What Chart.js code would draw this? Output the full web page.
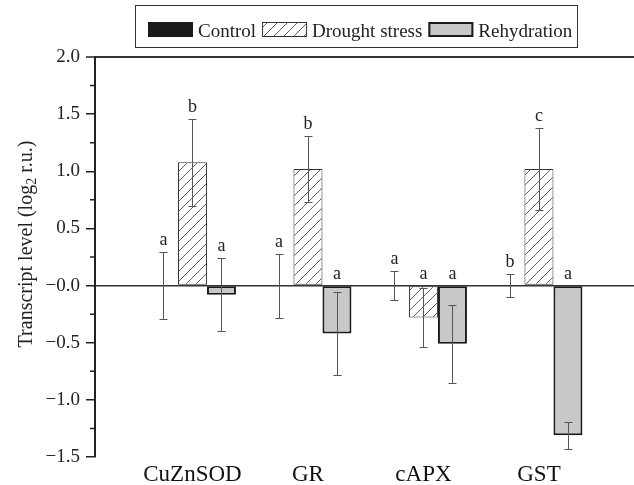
<!DOCTYPE html>
<html>
<head>
<meta charset="utf-8">
<script src="https://cdn.jsdelivr.net/npm/chart.js@4.4.0/dist/chart.umd.min.js"></script>
<style>
  html, body { margin: 0; padding: 0; background: #fff; }
</style>
</head>
<body>
<canvas id="chart" width="634" height="485"></canvas>
<script>
// Transcript level of antioxidant genes under drought and rehydration

const categories = ['CuZnSOD', 'GR', 'cAPX', 'GST'];
const seriesNames = ['Control', 'Drought stress', 'Rehydration'];

const controlValues = [0, 0, 0, 0];
const droughtValues = [1.08, 1.02, -0.28, 1.02];
const rehydrationValues = [-0.08, -0.42, -0.51, -1.31];

const controlErrors = [0.29, 0.28, 0.125, 0.10];
const droughtErrors = [0.38, 0.29, 0.26, 0.36];
const rehydrationErrors = [0.32, 0.36, 0.34, 0.12];

const controlLetters = ['a', 'a', 'a', 'b'];
const droughtLetters = ['b', 'b', 'a', 'c'];
const rehydrationLetters = ['a', 'a', 'a', 'a'];

const yTicks = [-1.5, -1.0, -0.5, 0, 0.5, 1.0, 1.5, 2.0];

const FONT = '"Liberation Serif", "Times New Roman", serif';
Chart.defaults.font.family = FONT;

const ctx = document.getElementById('chart').getContext('2d');

// diagonal hatch for the drought bars
function makeHatch() {
    const c = document.createElement('canvas');
    c.width = 10;
    c.height = 10;
    const g = c.getContext('2d');
    g.fillStyle = '#fff';
    g.fillRect(0, 0, 10, 10);
    g.strokeStyle = '#333';
    g.lineWidth = 0.8;
    g.beginPath();
    g.moveTo(0, 10); g.lineTo(10, 0);
    g.moveTo(-1, 1); g.lineTo(1, -1);
    g.moveTo(9, 11); g.lineTo(11, 9);
    g.stroke();
    return ctx.createPattern(c, 'repeat');
}
const hatch = makeHatch();

function toPoints(values) {
    return values.map((v, i) => ({ x: i + 1, y: v }));
}

function fmtTick(v) {
    if (v === 0) return '\u22120.0';
    if (v < 0) return '\u2212' + Math.abs(v).toFixed(1);
    return v.toFixed(1);
}

// error bars + significance letters
const errorBarPlugin = {
    id: 'errorBars',
    afterDatasetsDraw(chart) {
        const c = chart.ctx;
        const y = chart.scales.y;
        chart.data.datasets.forEach((ds, di) => {
            const meta = chart.getDatasetMeta(di);
            meta.data.forEach((bar, i) => {
                const v = ds.data[i].y;
                const e = ds.errors[i];
                const x = Math.round(bar.x) + 0.5;
                const top = Math.round(y.getPixelForValue(v + e)) + 0.5;
                const bot = Math.round(y.getPixelForValue(v - e)) + 0.5;
                c.save();
                c.strokeStyle = '#555';
                c.lineWidth = 1;
                c.beginPath();
                c.moveTo(x, top); c.lineTo(x, bot);
                c.moveTo(x - 4, top); c.lineTo(x + 4, top);
                c.moveTo(x - 4, bot); c.lineTo(x + 4, bot);
                c.stroke();

                const ly = y.getPixelForValue(Math.max(0, v + e)) - 7;
                c.fillStyle = '#222';
                c.font = '18px ' + FONT;
                c.textAlign = 'center';
                c.textBaseline = 'alphabetic';
                c.fillText(ds.letters[i], bar.x, ly);
                c.restore();
            });
        });
    }
};

// minor ticks, axis title with subscript, boxed legend
const decorPlugin = {
    id: 'decor',
    afterDraw(chart) {
        const c = chart.ctx;
        const y = chart.scales.y;
        const left = chart.chartArea.left;

        c.save();
        c.strokeStyle = '#222';
        c.lineWidth = 1.5;
        c.beginPath();
        for (let i = 0; i < yTicks.length - 1; i++) {
            const py = y.getPixelForValue((yTicks[i] + yTicks[i + 1]) / 2);
            c.moveTo(left - 5, py);
            c.lineTo(left, py);
        }
        c.stroke();
        c.restore();

        // y title
        c.save();
        c.translate(27, 244);
        c.rotate(-Math.PI / 2);
        c.fillStyle = '#222';
        c.textBaseline = 'middle';
        c.textAlign = 'left';
        const t1 = 'Transcript level (log';
        const t2 = '2';
        const t3 = ' r.u.)';
        c.font = '20px ' + FONT;
        const w1 = c.measureText(t1).width;
        const w3 = c.measureText(t3).width;
        c.font = '14px ' + FONT;
        const w2 = c.measureText(t2).width;
        let x = -(w1 + w2 + w3) / 2;
        c.font = '20px ' + FONT;
        c.fillText(t1, x, 0);
        c.font = '14px ' + FONT;
        c.fillText(t2, x + w1, 5);
        c.font = '20px ' + FONT;
        c.fillText(t3, x + w1 + w2, 0);
        c.restore();

        // legend
        c.save();
        c.strokeStyle = '#333';
        c.lineWidth = 1;
        c.strokeRect(135.5, 5.5, 442, 42);
        c.font = '19px ' + FONT;
        c.textBaseline = 'alphabetic';
        c.textAlign = 'left';
        let lx = 148;
        chart.data.datasets.forEach(ds => {
            c.fillStyle = ds.backgroundColor;
            c.fillRect(lx, 22, 45, 15);
            if (ds.borderWidth) {
                c.strokeStyle = ds.borderColor;
                c.lineWidth = ds.borderWidth;
                c.strokeRect(lx + ds.borderWidth / 2, 22 + ds.borderWidth / 2, 45 - ds.borderWidth, 15 - ds.borderWidth);
            }
            c.fillStyle = '#222';
            c.fillText(ds.label, lx + 50, 37);
            lx += 50 + c.measureText(ds.label).width + 6;
        });
        c.restore();
    }
};

new Chart(ctx, {
    type: 'bar',
    data: {
        datasets: [
            {
                label: seriesNames[0],
                data: toPoints(controlValues),
                errors: controlErrors,
                letters: controlLetters,
                backgroundColor: '#1a1a1a',
                borderWidth: 0
            },
            {
                label: seriesNames[1],
                data: toPoints(droughtValues),
                errors: droughtErrors,
                letters: droughtLetters,
                backgroundColor: hatch,
                borderColor: '#333',
                borderWidth: 1,
                borderSkipped: false
            },
            {
                label: seriesNames[2],
                data: toPoints(rehydrationValues),
                errors: rehydrationErrors,
                letters: rehydrationLetters,
                backgroundColor: '#c8c8c8',
                borderColor: '#1a1a1a',
                borderWidth: 2,
                borderSkipped: false
            }
        ]
    },
    options: {
        responsive: false,
        animation: false,
        categoryPercentage: 0.753,
        barPercentage: 1.0,
        layout: {
            padding: { top: 57, left: 0, right: 0, bottom: 0 }
        },
        plugins: {
            legend: { display: false },
            tooltip: { enabled: false }
        },
        scales: {
            x: {
                type: 'linear',
                offset: false,
                min: 0.156,
                max: 4.823,
                grid: { display: false, drawTicks: false },
                border: { display: false },
                afterBuildTicks: scale => {
                    scale.ticks = categories.map((c, i) => ({ value: i + 1 }));
                },
                afterFit: scale => { scale.height = 28; },
                ticks: {
                    autoSkip: false,
                    maxRotation: 0,
                    padding: 4,
                    color: '#111',
                    font: { size: 23 },
                    callback: (value, index) => categories[index]
                }
            },
            y: {
                min: -1.5,
                max: 2.0,
                afterBuildTicks: scale => {
                    scale.ticks = yTicks.map(v => ({ value: v }));
                },
                afterFit: scale => { scale.width = 95; },
                border: { display: true, color: '#222', width: 2 },
                grid: {
                    color: c => (c.tick && (c.tick.value === 0 || c.tick.value === 2)) ? '#333' : 'rgba(0,0,0,0)',
                    lineWidth: c => (c.tick && c.tick.value === 2) ? 2 : 1.5,
                    tickColor: '#222',
                    tickWidth: 1.5,
                    tickLength: 9
                },
                ticks: {
                    padding: 6,
                    color: '#222',
                    font: { size: 19 },
                    callback: v => fmtTick(v)
                }
            }
        }
    },
    plugins: [errorBarPlugin, decorPlugin]
});
</script>
</body>
</html>
